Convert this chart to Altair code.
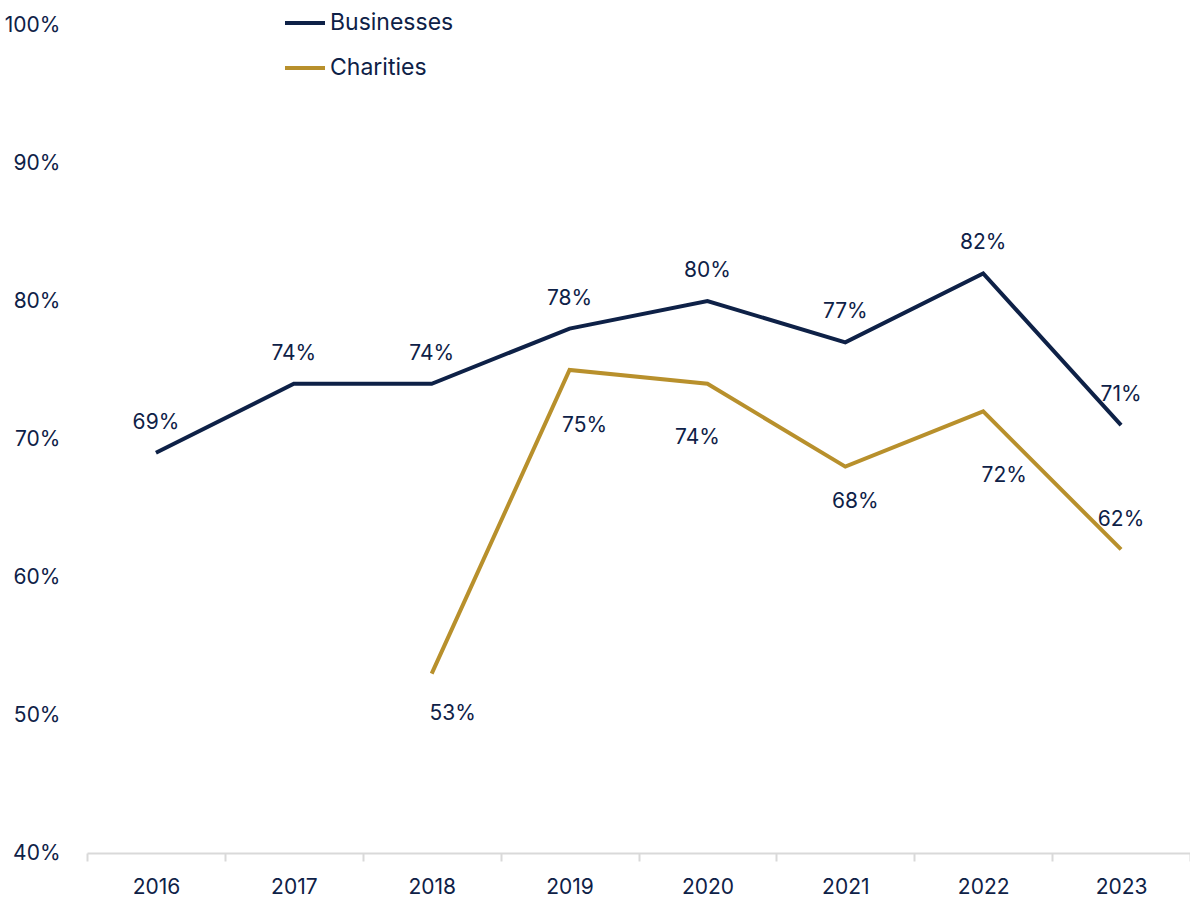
import altair as alt
import pandas as pd

years = ["2016", "2017", "2018", "2019", "2020", "2021", "2022", "2023"]
businesses = [69, 74, 74, 78, 80, 77, 82, 71]
charities = [None, None, 53, 75, 74, 68, 72, 62]
y_ticks = [40, 50, 60, 70, 80, 90, 100]

NAVY = "#0E2147"
GOLD = "#B8902C"
FONT = "Inter"

rows = []
for y, b, c in zip(years, businesses, charities):
    rows.append({"year": y, "series": "Businesses", "value": b})
    if c is not None:
        rows.append({"year": y, "series": "Charities", "value": c})
df = pd.DataFrame(rows)

x_enc = alt.X("year:N", sort=years, title=None,
              scale=alt.Scale(paddingInner=0, paddingOuter=0),
              axis=alt.Axis(labelAngle=0, tickBand="extent", domainColor="#D9D9D9",
                            domainWidth=2, tickColor="#D9D9D9", tickWidth=2, tickSize=8,
                            labelFontSize=21, labelColor=NAVY, labelFont=FONT,
                            labelPadding=15, grid=False))
y_enc = alt.Y("value:Q", title=None,
              scale=alt.Scale(domain=[40, 100], nice=False, zero=False),
              axis=alt.Axis(values=y_ticks, labelExpr="datum.value + '%'", domain=False,
                            ticks=False, grid=False, labelFontSize=21, labelColor=NAVY,
                            labelFont=FONT, labelPadding=27))

color = alt.Color("series:N", title=None,
                  scale=alt.Scale(domain=["Businesses", "Charities"], range=[NAVY, GOLD]),
                  legend=alt.Legend(orient="none", legendX=196, legendY=-24,
                                    symbolType="stroke", symbolStrokeWidth=4, symbolSize=1600,
                                    labelFontSize=23, labelColor=NAVY, labelFont=FONT,
                                    labelOffset=3, rowPadding=11))

lines = alt.Chart(df).mark_line(strokeWidth=4).encode(x=x_enc, y=y_enc, color=color)

bus_df = df[df.series == "Businesses"]
layers = [lines,
          alt.Chart(bus_df).mark_text(dy=-30, fontSize=21, font=FONT, color=NAVY)
          .transform_calculate(lbl="datum.value + '%'")
          .encode(x=x_enc, y=y_enc, text="lbl:N")]
# label placement styles: (dx, dy) per Charities label
char_offsets = {"2018": (21, 40), "2019": (15, 56), "2020": (-10, 54),
                "2021": (10, 35), "2022": (21, 65), "2023": (0, -29)}
for yr, (dx, dy) in char_offsets.items():
    sub = df[(df.series == "Charities") & (df.year == yr)]
    layers.append(alt.Chart(sub).mark_text(dx=dx, dy=dy, fontSize=21, font=FONT, color=NAVY)
                  .transform_calculate(lbl="datum.value + '%'")
                  .encode(x=x_enc, y=y_enc, text="lbl:N"))

chart = alt.layer(*layers).properties(
    width=1103, height=828,
    autosize=alt.AutoSizeParams(type="none"),
    padding={"left": 87, "top": 25, "right": 0, "bottom": 48},
).configure(font=FONT).configure_view(strokeWidth=0, stroke=None)

chart.save("out.html", embed_options={"renderer": "svg", "actions": False})
